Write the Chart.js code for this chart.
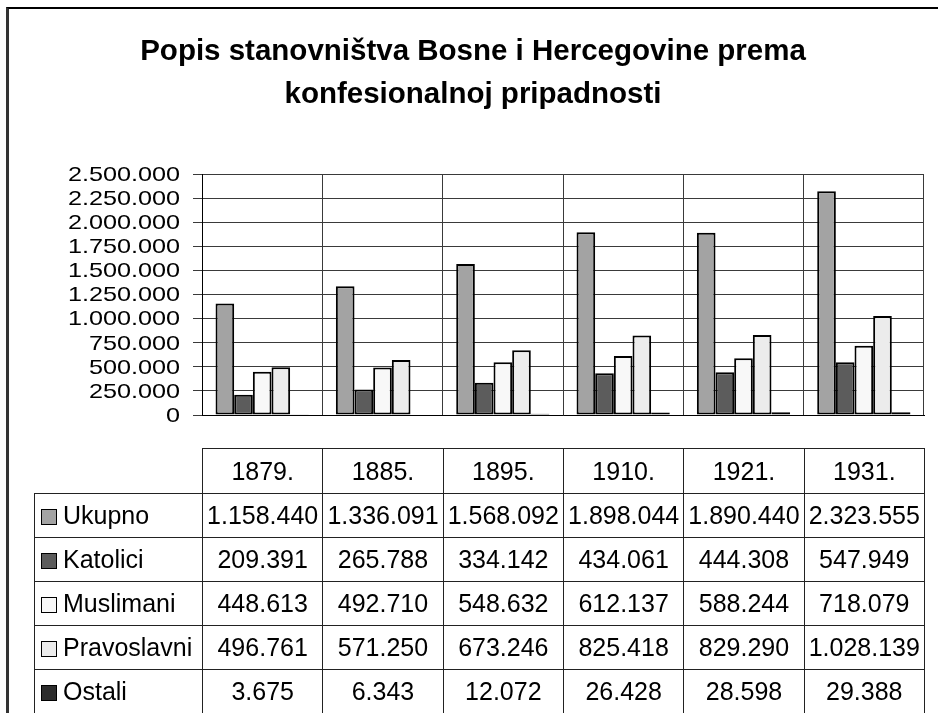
<!DOCTYPE html>
<html>
<head>
<meta charset="utf-8">
<title>Popis stanovništva Bosne i Hercegovine</title>
<script src="https://cdn.jsdelivr.net/npm/chart.js@4/dist/chart.umd.min.js"></script>
<style>
    body { margin: 0; background: #fff; font-family: 'Liberation Sans', Arial, sans-serif; }
    #wrap { position: relative; width: 938px; height: 713px; overflow: hidden; }
    #frame { position: absolute; left: 6px; top: 7px; width: 940px; height: 720px; border-top: 2px solid #000; border-left: 3px solid #333; }
    canvas { position: absolute; left: 0; top: 0; }
    #dataTable { position: absolute; border-collapse: collapse; table-layout: fixed; font-size: 25px; color: #000; }
    #dataTable td { border: 1px solid #222; padding: 0; text-align: center; white-space: nowrap; overflow: visible; }
    #dataTable td.corner { border: none; }
    #dataTable td.name { text-align: left; padding-left: 6px; }
    .swatch { display: inline-block; width: 14px; height: 14px; border: 1px solid #000; margin-right: 6px; vertical-align: -1px; }
</style>
</head>
<body>
<div id="wrap">
    <div id="frame"></div>
    <canvas id="censusChart" width="938" height="713"></canvas>
    <table id="dataTable"></table>
</div>
<script>
const years = ['1879.', '1885.', '1895.', '1910.', '1921.', '1931.'];
const seriesNames = ['Ukupno', 'Katolici', 'Muslimani', 'Pravoslavni', 'Ostali'];
const ukupno = [1158440, 1336091, 1568092, 1898044, 1890440, 2323555];
const katolici = [209391, 265788, 334142, 434061, 444308, 547949];
const muslimani = [448613, 492710, 548632, 612137, 588244, 718079];
const pravoslavni = [496761, 571250, 673246, 825418, 829290, 1028139];
const ostali = [3675, 6343, 12072, 26428, 28598, 29388];
const seriesColors = ['#a3a3a3', '#5c5c5c', '#f8f8f8', '#ececec', '#2c2c2c'];

const seriesValues = [ukupno, katolici, muslimani, pravoslavni, ostali];

// thousands with dots, like the original
const fmt = n => n.toString().replace(/\B(?=(\d{3})+(?!\d))/g, '.');

// y labels are stretched sideways in the original, so draw them by hand
const yLabelPlugin = {
    id: 'yLabels',
    afterDraw(chart) {
        const ctx = chart.ctx;
        const yScale = chart.scales.y;
        const right = chart.chartArea.left - 22;
        ctx.save();
        ctx.font = '21px "Liberation Sans", Arial, sans-serif';
        ctx.fillStyle = '#000';
        ctx.textAlign = 'right';
        ctx.textBaseline = 'middle';
        yScale.ticks.forEach(t => {
            ctx.save();
            ctx.translate(right, yScale.getPixelForValue(t.value) + 1);
            ctx.scale(1.2, 1);
            ctx.fillText(fmt(t.value), 0, 0);
            ctx.restore();
        });
        ctx.restore();
    }
};

const ctx = document.getElementById('censusChart').getContext('2d');
const chart = new Chart(ctx, {
    type: 'bar',
    data: {
        labels: years,
        datasets: seriesNames.map((name, i) => ({
            label: name,
            data: seriesValues[i],
            backgroundColor: seriesColors[i],
            borderColor: '#000',
            borderWidth: 2,
            borderSkipped: false,
            categoryPercentage: 0.775,
            barPercentage: 1.0
        }))
    },
    options: {
        responsive: false,
        devicePixelRatio: 1,
        animation: false,
        layout: {
            padding: { left: 22, right: 14, top: 8, bottom: 298 }
        },
        plugins: {
            legend: { display: false },
            tooltip: { enabled: false },
            title: {
                display: true,
                text: ['Popis stanovništva Bosne i Hercegovine prema', 'konfesionalnoj pripadnosti'],
                color: '#000',
                font: { family: '"Liberation Sans", Arial, sans-serif', size: 29.5, weight: 'bold', lineHeight: 1.46 },
                padding: { top: 22, bottom: 58 }
            }
        },
        scales: {
            x: {
                offset: true,
                ticks: { display: false },
                grid: { color: '#3a3a3a', lineWidth: 1, offset: true, drawTicks: false },
                border: { color: '#000', width: 1 }
            },
            y: {
                min: 0,
                max: 2500000,
                ticks: { display: false, stepSize: 250000 },
                grid: { color: '#3a3a3a', lineWidth: 1, tickLength: 9 },
                border: { color: '#000', width: 1 },
                afterFit: (scale) => { scale.width = 180; }
            }
        }
    },
    plugins: [yLabelPlugin]
});

// data table under the plot, columns lined up with the x scale
const area = chart.chartArea;
const colW = (area.right - area.left) / years.length;
const tableLeft = 34;
const table = document.getElementById('dataTable');
table.style.left = tableLeft + 'px';
table.style.top = '448px';

let html = '<colgroup><col style="width:' + (area.left - tableLeft) + 'px">';
years.forEach(() => { html += '<col style="width:' + colW + 'px">'; });
html += '</colgroup>';
html += '<tr style="height:45px"><td class="corner"></td>';
years.forEach(y => { html += '<td>' + y + '</td>'; });
html += '</tr>';
seriesNames.forEach((name, i) => {
    html += '<tr style="height:44px"><td class="name"><span class="swatch" style="background:' + seriesColors[i] + '"></span>' + name + '</td>';
    seriesValues[i].forEach(v => { html += '<td>' + fmt(v) + '</td>'; });
    html += '</tr>';
});
table.innerHTML = html;
</script>
</body>
</html>
